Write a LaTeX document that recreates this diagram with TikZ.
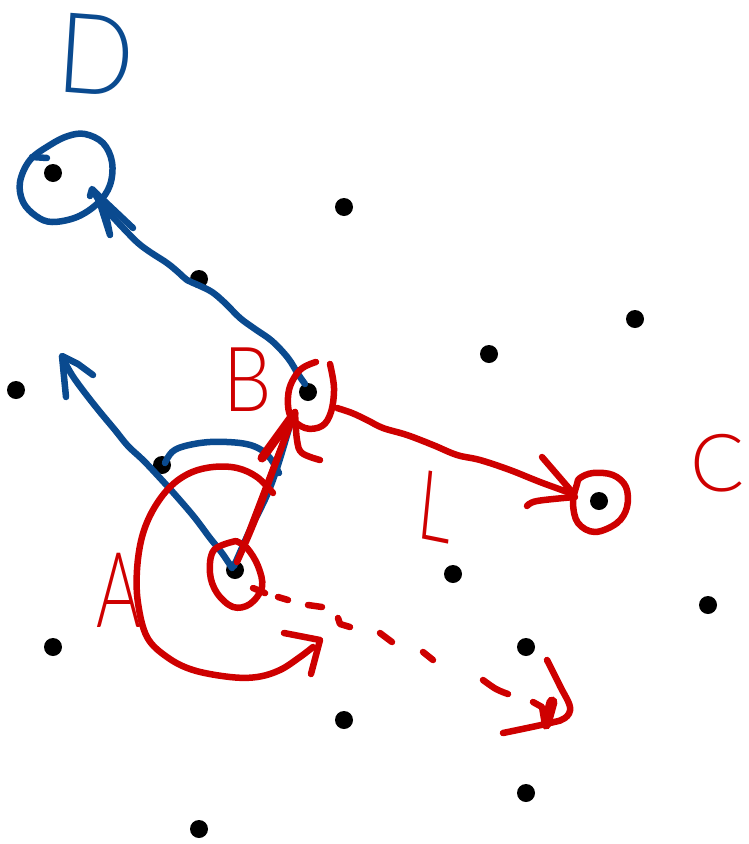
\documentclass[tikz,border=0pt]{standalone}
\usepackage{fontspec}
\newfontfamily\handfont{Lato Light}
\definecolor{penblue}{RGB}{10,74,143}
\definecolor{penred}{RGB}{206,0,0}
\tikzset{
  dot/.style={circle, fill=black, inner sep=0pt, minimum size=18pt},
  pen/.style={line width=6.5pt, line cap=round, line join=round},
  bluestroke/.style={pen, draw=penblue},
  redstroke/.style={pen, draw=penred},
  label/.style={inner sep=0pt, font=\handfont},
}
\begin{document}
\begin{tikzpicture}[x=1pt,y=-1pt]
\useasboundingbox (0,0) rectangle (749,844);
% dots
\node[dot] (d1) at (53,173) {};
\node[dot] (d2) at (344,207) {};
\node[dot] (d3) at (199,279) {};
\node[dot] (d4) at (635,319) {};
\node[dot] (d5) at (489,354) {};
\node[dot] (d6) at (16,390) {};
\node[dot] (dB) at (308,392) {};
\node[dot] (d8) at (162,465) {};
\node[dot] (dC) at (599,501) {};
\node[dot] (dA) at (235,570) {};
\node[dot] (d11) at (453,574) {};
\node[dot] (d12) at (708,605) {};
\node[dot] (d13) at (53,647) {};
\node[dot] (d14) at (526,647) {};
\node[dot] (d15) at (344,720) {};
\node[dot] (d16) at (526,793) {};
\node[dot] (d17) at (199,829) {};
% labels
\node[label, text=penblue, font=\handfont\fontsize{112}{112}\selectfont, xscale=0.9, rotate=-4] (lD) at (96,55) {D};
\node[label, text=penred, font=\handfont\fontsize{90}{90}\selectfont, xscale=0.85] (lB) at (248,380) {B};
\node[label, text=penred, font=\handfont\fontsize{80}{80}\selectfont] (lC) at (718,463) {C};
\node[label, text=penred, font=\handfont\fontsize{97}{97}\selectfont, xscale=0.7, rotate=-8] (lL) at (436,507) {L};
\node[label, text=penred, font=\handfont\fontsize{105}{105}\selectfont, xscale=0.65] (lA) at (119,590) {A};
% blue: circle round D dot
\draw[bluestroke] (32,157) -- (47,158);
\draw[bluestroke] plot[smooth cycle, tension=0.6] coordinates {(30,160) (20,182) (23,202) (36,216) (52,222) (77,217) (98,203) (110,185) (112,162) (103,143) (85,134) (68,136) (50,145)};
% blue: arrow from B dot to D circle
\draw[bluestroke] plot[smooth, tension=0.6] coordinates {(305,384) (298,374) (288,358) (272,341) (255,329) (240,318) (225,303) (212,292) (198,285) (187,280) (178,272) (167,263) (150,252) (138,243) (126,231) (112,216) (100,202) (94,192)};
\draw[bluestroke] (90,196) -- (92,189) -- (97,194) -- (110,235) -- (103,200);
\draw[bluestroke] (97,194) -- (133,228);
% blue: arrow from A dot to the upper left
\draw[bluestroke] plot[smooth, tension=0.6] coordinates {(232,568) (222,553) (210,538) (195,518) (178,498) (160,478) (143,460) (128,446) (115,430) (100,412) (85,393) (72,375) (62,357)};
\draw[bluestroke] (66,397) -- (62,356) -- (78,364) -- (93,375);
% blue: arc from dot and line A to B
\draw[bluestroke] plot[smooth, tension=0.6] coordinates {(165,463) (172,452) (185,446) (210,442) (240,443) (258,448) (270,458) (279,473)};
\draw[bluestroke] plot[smooth, tension=0.6] coordinates {(234,566) (250,530) (267,495) (278,465) (290,425)};
% red: circle round B dot
\draw[redstroke] plot[smooth, tension=0.6] coordinates {(316,362) (300,370) (289,390) (290,415) (305,428) (322,426) (331,412) (334,388) (330,364)};
% red: arrow A to B
\draw[redstroke] plot[smooth, tension=0.6] coordinates {(237,562) (255,520) (275,465) (295,412)};
\draw[redstroke, line width=9pt] (262,458) -- (294,414);
\draw[redstroke] (246,540) -- (294,414);
\draw[redstroke] plot[smooth, tension=0.6] coordinates {(295,412) (297,440) (302,453) (320,460)};
% red: arrow B to C
\draw[redstroke] plot[smooth, tension=0.6] coordinates {(337,408) (352,413) (367,420) (383,428) (407,435) (433,445) (457,455) (480,460) (510,470) (540,482) (573,494)};
\draw[redstroke] (542,457) -- (573,493);
\draw[redstroke] plot[smooth, tension=0.6] coordinates {(527,506) (537,501) (575,497)};
% red: circle round C dot
\draw[redstroke] plot[smooth cycle, tension=0.6] coordinates {(580,478) (593,473) (613,475) (626,487) (627,507) (617,523) (595,532) (578,523) (573,503) (577,484)};
% red: circle round A dot
\draw[redstroke] plot[smooth, tension=0.6] coordinates {(236,541) (214,550) (210,573) (217,593) (233,607) (250,604) (262,587) (258,566) (247,548) (236,541)};
% red: big curved arrow round A
\draw[redstroke] plot[smooth, tension=0.6] coordinates {(273,493) (257,477) (237,468) (213,467) (190,473) (170,487) (153,510) (142,537) (137,570) (138,603) (147,637) (167,657) (193,670) (230,677) (257,677) (280,670) (300,657) (313,647)};
\draw[redstroke] (284,633) -- (320,640) -- (311,674);
% red: dashed arrow from A
\draw[redstroke] (253,588) -- (265,593);
\draw[redstroke] (278,597) -- (288,600);
\draw[redstroke] (308,605) -- (322,607);
\draw[redstroke] (338,618) -- (340,624) -- (350,627);
\draw[redstroke] (380,633) -- (392,642);
\draw[redstroke] (423,652) -- (433,660);
\draw[redstroke] plot[smooth, tension=0.6] coordinates {(483,680) (496,689) (508,694)};
\draw[redstroke] plot[smooth, tension=0.6] coordinates {(547,660) (560,686) (570,707) (565,718) (550,723) (503,733)};
\draw[redstroke, line width=11pt] (552,702) -- (546,724);
\draw[redstroke] (533,702) -- (542,707) -- (545,725);
\end{tikzpicture}
\end{document}
